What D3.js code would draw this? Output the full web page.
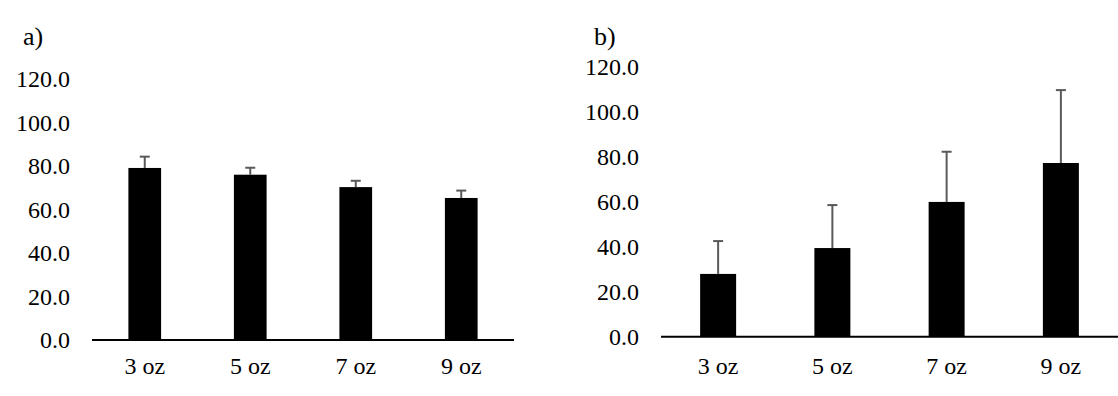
<!DOCTYPE html>
<html>
<head>
<meta charset="utf-8">
<script src="https://cdn.jsdelivr.net/npm/d3@7"></script>
<style>
    body { margin: 0; background: white; }
    svg text { font-family: "Liberation Serif", "Times New Roman", serif; fill: #000; }
</style>
</head>
<body>
<div id="chart"></div>
<script>
// Data
const categories = ['3 oz', '5 oz', '7 oz', '9 oz'];
const yTicks = [0, 20, 40, 60, 80, 100, 120];

const meansA = [79.1, 76.0, 70.3, 65.3];
const errorsA = [5.2, 3.2, 2.9, 3.4];

const meansB = [27.9, 39.4, 59.9, 77.2];
const errorsB = [14.6, 19.1, 22.3, 32.4];

const width = 1118, height = 396;

const svg = d3.select("#chart")
    .append("svg")
    .attr("width", width)
    .attr("height", height);

// Draw one bar panel with its own scales
function drawPanel(opts) {
    const x = d3.scaleBand()
        .domain(categories)
        .range([opts.left, opts.right])
        .paddingInner(opts.pad)
        .paddingOuter(opts.pad / 2);

    const y = d3.scaleLinear()
        .domain([0, 120])
        .range([opts.bottom, opts.top]);

    const g = svg.append("g");

    // y axis labels only (no line, no ticks)
    const yAxis = g.append("g")
        .attr("transform", `translate(${opts.left},0)`)
        .call(d3.axisLeft(y).tickValues(yTicks).tickSize(0).tickPadding(22).tickFormat(d3.format(".1f")));
    yAxis.select(".domain").remove();
    yAxis.attr("font-size", null).attr("font-family", null);
    yAxis.selectAll("text")
        .attr("font-size", 24)
        .attr("dy", "0.32em");

    // bars
    g.selectAll(".bar")
        .data(opts.means)
        .enter()
        .append("rect")
        .attr("x", (d, i) => x(categories[i]))
        .attr("y", d => y(d))
        .attr("width", x.bandwidth())
        .attr("height", d => y(0) - y(d))
        .attr("fill", "#000");

    // error bars (upper only)
    const cx = i => x(categories[i]) + x.bandwidth() / 2;
    g.selectAll(".err")
        .data(opts.means)
        .enter()
        .append("line")
        .attr("x1", (d, i) => cx(i))
        .attr("x2", (d, i) => cx(i))
        .attr("y1", d => y(d))
        .attr("y2", (d, i) => y(d + opts.errors[i]))
        .attr("stroke", "#595959")
        .attr("stroke-width", 2);
    g.selectAll(".cap")
        .data(opts.means)
        .enter()
        .append("line")
        .attr("x1", (d, i) => cx(i) - 5)
        .attr("x2", (d, i) => cx(i) + 5)
        .attr("y1", (d, i) => y(d + opts.errors[i]))
        .attr("y2", (d, i) => y(d + opts.errors[i]))
        .attr("stroke", "#595959")
        .attr("stroke-width", 2);

    // x axis line
    g.append("line")
        .attr("x1", opts.left)
        .attr("x2", opts.right)
        .attr("y1", y(0))
        .attr("y2", y(0))
        .attr("stroke", "#000")
        .attr("stroke-width", 2);

    // category labels
    g.selectAll(".cat")
        .data(categories)
        .enter()
        .append("text")
        .attr("x", d => x(d) + x.bandwidth() / 2)
        .attr("y", 374)
        .attr("text-anchor", "middle")
        .attr("font-size", 24)
        .text(d => d);

    // panel letter
    g.append("text")
        .attr("x", opts.labelX)
        .attr("y", 45)
        .attr("font-size", 26)
        .text(opts.label);
}

drawPanel({ label: 'a)', labelX: 23, means: meansA, errors: errorsA,
    left: 92, right: 514, top: 79, bottom: 340, pad: 0.69 });

drawPanel({ label: 'b)', labelX: 594, means: meansB, errors: errorsB,
    left: 661, right: 1118, top: 66.7, bottom: 336.7, pad: 0.685 });
</script>
</body>
</html>
